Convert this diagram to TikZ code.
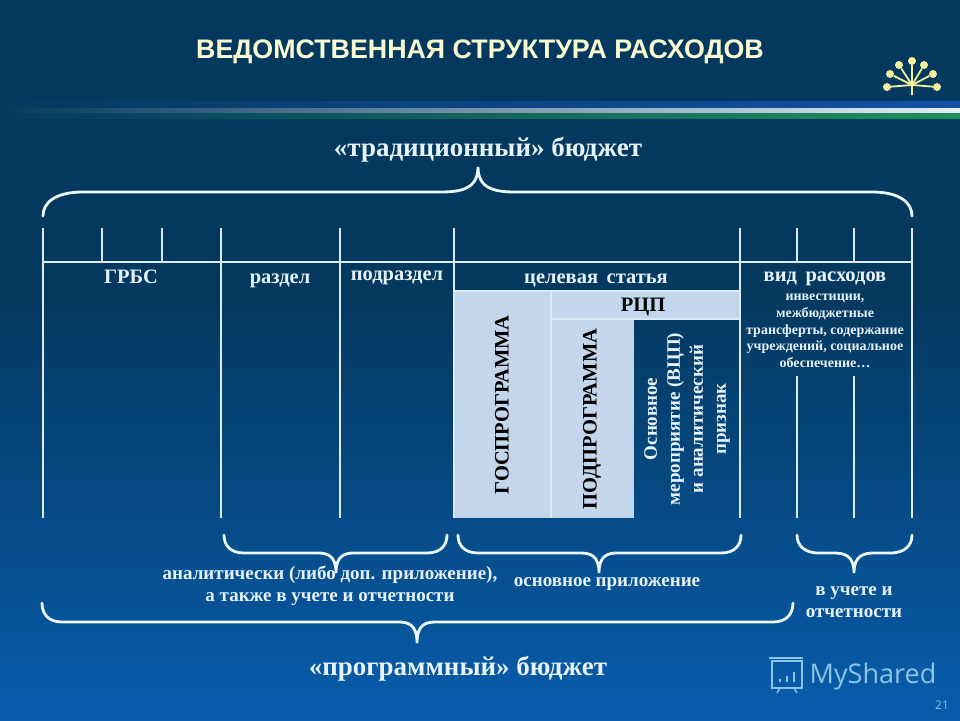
\documentclass[tikz,border=0pt]{standalone}
\usepackage{fontspec}
\setmainfont{Liberation Serif}
\newfontfamily\titlefont{Liberation Sans}
\newfontfamily\markfont{Open Sans}
\definecolor{bgtop}{HTML}{04395F}
\definecolor{bgmid}{HTML}{044679}
\definecolor{bgbot}{HTML}{085CAC}
\definecolor{rulecol}{HTML}{DDEBF6}
\definecolor{panelcol}{HTML}{C3D6EB}
\definecolor{labelcol}{HTML}{E6F3FB}
\definecolor{titlecol}{HTML}{FBFBD2}
\definecolor{logocol}{HTML}{F4EF9E}
\definecolor{markcol}{HTML}{8CC4E6}
\definecolor{stripeblue}{HTML}{1450A8}
\definecolor{stripewhite}{HTML}{E4F0F4}
\definecolor{stripegreen}{HTML}{1F8F5C}
\newcommand{\curly}[7]{\draw[bracket] (#1,#4) .. controls (#1,{#4+0.55*(#5-#4)}) and ({#1+0.3*#7},#5) .. ({#1+#7},#5) -- ({#3-0.95*#7},#5) .. controls ({#3-0.45*#7},#5) and (#3,{#5+0.1*(#6-#5)}) .. (#3,#6) .. controls (#3,{#5+0.1*(#6-#5)}) and ({#3+0.45*#7},#5) .. ({#3+0.95*#7},#5) -- ({#2-#7},#5) .. controls ({#2-0.3*#7},#5) and (#2,{#4+0.55*(#5-#4)}) .. (#2,#4);}
\begin{document}
\begin{tikzpicture}[x=1pt,y=-1pt,
      tableline/.style ={rulecol, line width=2.8pt},
      bracket/.style ={white!92!cyan, line width=2.8pt, line cap=round},
      panel/.style ={fill=panelcol, draw=none},
      head/.style ={labelcol, inner sep=0pt, font=\bfseries\fontsize{20.5}{22}\selectfont},
      note/.style ={labelcol, inner sep=0pt, align=center, font=\bfseries\fontsize{19}{22}\selectfont},
      budget/.style ={labelcol, inner sep=0pt, font=\bfseries\fontsize{27}{29}\selectfont},
      spoke/.style ={logocol, line width=1.8pt},
      bud/.style ={circle, fill=logocol, minimum size=8pt, inner sep=0pt}]

   \useasboundingbox (0,0) rectangle (960,720);
   \fill[bgtop] (0,0) rectangle (960,300);
   \shade[top color=bgtop, middle color=bgmid!70!bgbot, bottom color=bgbot] (0,300) rectangle (960,720);

   \shade[left color=bgtop, middle color=stripeblue, right color=stripeblue] (0,101) rectangle (960,108);
   \shade[left color=bgtop, middle color=stripewhite, right color=stripewhite] (0,108) rectangle (960,113);
   \shade[left color=bgtop, middle color=stripegreen, right color=stripegreen] (0,113) rectangle (960,118);

   \node[titlecol, inner sep=0pt, font=\titlefont\bfseries\fontsize{26.8}{28}\selectfont] (title) at (480,52) {ВЕДОМСТВЕННАЯ СТРУКТУРА РАСХОДОВ};

   \coordinate (hub) at (912,85);
   \node[bud] (P) at (887,87) {};
   \node[bud] (Q) at (890,74) {};
   \node[bud] (R) at (899,65) {};
   \node[bud] (S) at (912,61) {};
   \node[bud] (T) at (924,65) {};
   \node[bud] (U) at (933,74) {};
   \node[bud] (V) at (937,87) {};
   \coordinate (stem) at (912,95);
   \draw[spoke] (hub) to (P);
   \draw[spoke] (hub) to (Q);
   \draw[spoke] (hub) to (R);
   \draw[spoke] (hub) to (S);
   \draw[spoke] (hub) to (T);
   \draw[spoke] (hub) to (U);
   \draw[spoke] (hub) to (V);
   \draw[spoke] (hub) to (stem);

   \node[panel, minimum width=96pt, minimum height=226pt, inner sep=0pt] (gos) at (502,405) {};
   \node[panel, minimum width=188pt, minimum height=26pt, inner sep=0pt] (rcp) at (646,305) {};
   \node[panel, minimum width=82pt, minimum height=198pt, inner sep=0pt] (pod) at (593,419) {};

   \draw[tableline] (43,228) -- (43,518);
   \draw[tableline] (102,228) -- (102,262);
   \draw[tableline] (162,228) -- (162,262);
   \draw[tableline] (221,228) -- (221,518);
   \draw[tableline] (340,228) -- (340,518);
   \draw[tableline] (454,228) -- (454,518);
   \draw[tableline] (740,228) -- (740,518);
   \draw[tableline] (797,228) -- (797,262);
   \draw[tableline] (854,228) -- (854,262);
   \draw[tableline] (797,376) -- (797,518);
   \draw[tableline] (854,376) -- (854,518);
   \draw[tableline] (912,228) -- (912,518);
   \draw[tableline] (43,262) -- (912,262);
   \draw[tableline] (454,291) -- (740,291);
   \draw[tableline] (551,291) -- (551,518);
   \draw[tableline] (551,319) -- (740,319);

   \node[head] (grbs) at (131,277) {ГРБС};
   \node[head] (razdel) at (280,281) {раздел};
   \node[head] (podrazdel) at (397,278) {подраздел};
   \node[head] (celevaya) at (596,280) {целевая\, статья};
   \node[head, text=black] (rcplabel) at (643,307) {РЦП};
   \node[head] (vid) at (825,279) {вид\, расходов};
   \node[labelcol, inner sep=0pt, align=center, font=\bfseries\fontsize{14}{16.7}\selectfont] (vidnote) at (825,331) {инвестиции,\\межбюджетные\\трансферты, содержание\\учреждений, социальное\\обеспечение\dots};

   \node[black, inner sep=0pt, rotate=90, font=\bfseries\fontsize{20.5}{22}\selectfont] (goslabel) at (502,405) {ГОСПРОГРАММА};
   \node[black, inner sep=0pt, rotate=90, font=\bfseries\fontsize{20.5}{22}\selectfont] (podlabel) at (592,419) {ПОДПРОГРАММА};
   \node[labelcol, inner sep=0pt, rotate=90, align=center, font=\bfseries\fontsize{19}{23}\selectfont] (osn) at (687,419) {Основное\\мероприятие (ВЦП)\\и аналитический\\признак};

   \curly{43}{912}{478}{216}{192}{167}{40}
   \curly{224}{447}{336}{535}{553}{573}{20}
   \curly{458}{741}{599}{535}{553}{573}{20}
   \curly{797}{912}{854}{535}{553}{573}{22}
   \curly{42}{793}{417}{603}{622}{643}{20}

   \node[budget] (trad) at (488,150) {«традиционный» бюджет};
   \node[budget] (prog) at (458,669) {«программный» бюджет};
   \node[note] (anal) at (330,586) {аналитически (либо доп. приложение),\\а также в учете и отчетности};
   \node[note] (osnpril) at (607,584) {основное приложение};
   \node[note] (uchet) at (854,602) {в учете и\\отчетности};

   \node[markcol, inner sep=0pt, font=\markfont\fontsize{27}{30}\selectfont] (mark) at (873,676) {MyShared};
   \node[markcol, inner sep=0pt, font=\markfont\fontsize{12}{14}\selectfont] (page) at (942,705) {21};
   \draw[markcol, line width=1.4pt] (772,661) rectangle (802,688);
   \draw[markcol, line width=1.4pt] (769,658) -- (803,658);
   \draw[markcol, line width=1.4pt] (780,688) -- (777,693);
   \draw[markcol, line width=1.4pt] (794,688) -- (797,693);
   \draw[markcol, line width=2pt] (780,682) -- (780,679);
   \draw[markcol, line width=2pt] (787,682) -- (787,676);
   \draw[markcol, line width=2pt] (794,682) -- (794,672);

 \end{tikzpicture}
\end{document}
